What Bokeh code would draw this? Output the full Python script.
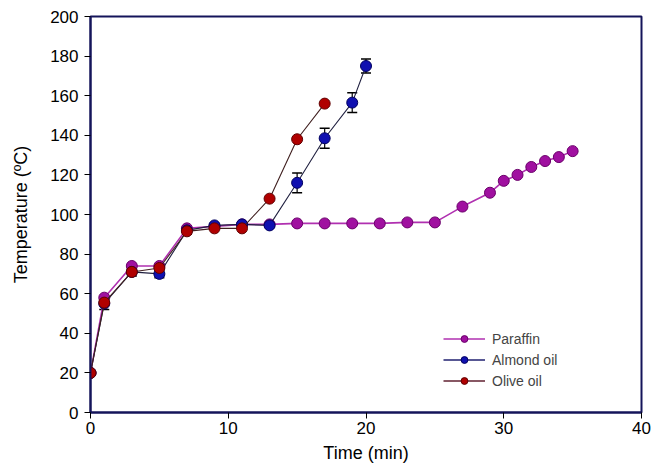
from bokeh.plotting import figure
from bokeh.models import ColumnDataSource, Whisker, TeeHead, Legend, LegendItem, Range1d, FixedTicker
from bokeh.embed import file_html
from bokeh.resources import INLINE

# Data
par_t = [0, 1, 3, 5, 7, 9, 11, 13, 15, 17, 19, 21, 23, 25, 27, 29, 30, 31, 32, 33, 34, 35]
par_T = [20, 58, 74, 74, 93, 94, 95, 95, 95.5, 95.5, 95.5, 95.5, 96, 96, 104, 111, 117, 120, 124, 127, 129, 132]

alm_t = [0, 1, 3, 5, 7, 9, 11, 13, 15, 17, 19, 20]
alm_T = [20, 55, 71, 70, 92, 94.5, 95, 94.5, 116, 138.5, 156.5, 175]
alm_err = [0, 3, 2, 2, 2, 1, 1, 1, 5, 5, 5, 3.5]

oli_t = [0, 1, 3, 5, 7, 9, 11, 13, 15, 17]
oli_T = [20, 55.5, 71, 73, 91.5, 93, 93, 108, 138, 156]

FONT = "Liberation Sans"
FRAME = "#14145a"

p = figure(frame_width=551, frame_height=396, output_backend="svg", toolbar_location=None,
           x_range=Range1d(0, 40), y_range=Range1d(0, 200),
           min_border_left=90, min_border_top=16, min_border_right=10, min_border_bottom=52)
p.background_fill_color = "white"
p.border_fill_color = "white"
p.outline_line_color = FRAME
p.outline_line_width = 2
p.xgrid.visible = False
p.ygrid.visible = False

for ax in (p.xaxis[0], p.yaxis[0]):
    ax.axis_line_color = FRAME
    ax.axis_line_width = 2
    ax.major_tick_line_color = "black"
    ax.major_tick_line_width = 1
    ax.major_tick_out = 6
    ax.major_tick_in = 0
    ax.minor_tick_line_color = None
    ax.major_label_text_font = FONT
    ax.major_label_text_font_size = "17px"
    ax.major_label_text_color = "black"
    ax.axis_label_text_font = FONT
    ax.axis_label_text_font_size = "18px"
    ax.axis_label_text_font_style = "normal"
    ax.axis_label_text_color = "black"

p.xaxis.ticker = FixedTicker(ticks=[0, 10, 20, 30, 40])
p.yaxis.ticker = FixedTicker(ticks=list(range(0, 201, 20)))
p.xaxis.axis_label = "Time (min)"
p.yaxis.axis_label = "Temperature (ºC)"
p.xaxis.major_label_standoff = 3
p.yaxis.major_label_standoff = 6
p.xaxis.axis_label_standoff = 6
p.yaxis.axis_label_standoff = 16

src_p = ColumnDataSource(dict(t=par_t, T=par_T))
src_a = ColumnDataSource(dict(t=alm_t, T=alm_T,
                              lo=[v - e for v, e in zip(alm_T, alm_err)],
                              hi=[v + e for v, e in zip(alm_T, alm_err)]))
src_o = ColumnDataSource(dict(t=oli_t, T=oli_T))

wh = Whisker(source=src_a, base="t", lower="lo", upper="hi", line_color="black", line_width=1.2,
             upper_head=TeeHead(size=10, line_color="black", line_width=1.5),
             lower_head=TeeHead(size=10, line_color="black", line_width=1.5))
p.add_layout(wh)

lp = p.line("t", "T", source=src_p, line_color="#b030b0", line_width=1.6)
mp = p.scatter("t", "T", source=src_p, marker="circle", size=11, fill_color="#a010a0",
               line_color="#6a006a", line_width=1)
la = p.line("t", "T", source=src_a, line_color="#202040", line_width=1.1)
ma = p.scatter("t", "T", source=src_a, marker="circle", size=11, fill_color="#1010b0",
               line_color="#000060", line_width=1)
lo = p.line("t", "T", source=src_o, line_color="#402020", line_width=1.1)
mo = p.scatter("t", "T", source=src_o, marker="circle", size=11, fill_color="#b00000",
               line_color="#600000", line_width=1)

# legend glyphs with small markers
lp2 = p.line([0], [0], line_color="#b030b0", line_width=1.6, visible=False)
mp2 = p.scatter([0], [0], marker="circle", size=8, fill_color="#a010a0", line_color="#6a006a", visible=False)
la2 = p.line([0], [0], line_color="#202070", line_width=1.6, visible=False)
ma2 = p.scatter([0], [0], marker="circle", size=8, fill_color="#1010b0", line_color="#000060", visible=False)
lo2 = p.line([0], [0], line_color="#602030", line_width=1.6, visible=False)
mo2 = p.scatter([0], [0], marker="circle", size=8, fill_color="#b00000", line_color="#600000", visible=False)

legend = Legend(items=[LegendItem(label="Paraffin", renderers=[lp2, mp2]),
                       LegendItem(label="Almond oil", renderers=[la2, ma2]),
                       LegendItem(label="Olive oil", renderers=[lo2, mo2])],
                location=(353, 23), border_line_color=None, background_fill_alpha=0,
                glyph_width=42, glyph_height=17, spacing=4, label_standoff=7,
                label_text_font=FONT, label_text_font_size="14px", padding=4)
p.add_layout(legend)

open("out.html", "w").write(file_html(p, INLINE))
